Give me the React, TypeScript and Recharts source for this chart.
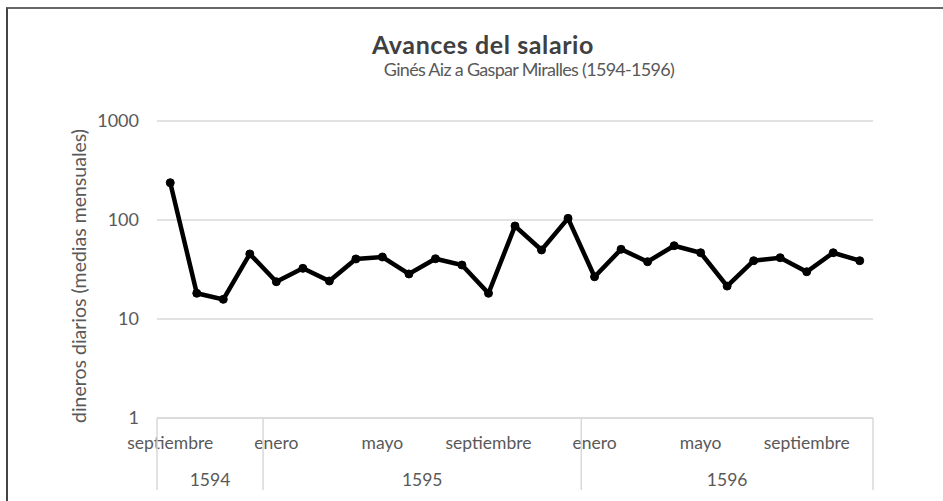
import { CartesianGrid, Line, LineChart, XAxis, YAxis } from 'recharts';

const months = [
  'septiembre', 'octubre', 'noviembre', 'diciembre',
  'enero', 'febrero', 'marzo', 'abril', 'mayo', 'junio', 'julio', 'agosto', 'septiembre', 'octubre', 'noviembre', 'diciembre',
  'enero', 'febrero', 'marzo', 'abril', 'mayo', 'junio', 'julio', 'agosto', 'septiembre', 'octubre', 'noviembre',
];
const yearSpans: [string, number][] = [['1594', 4], ['1595', 12], ['1596', 11]];
const shownMonths = ['septiembre', 'enero', 'mayo'];
const values = [
  238, 18.2, 15.8, 45.4,
  23.8, 32.5, 24.2, 40.4, 42.3, 28.5, 40.6, 35.1, 18.2, 87, 49.8, 104,
  26.7, 50.6, 37.9, 55, 46.7, 21.5, 38.8, 41.6, 30, 46.7, 38.8,
];
const yTicks = [1, 10, 100, 1000];

const years = yearSpans.flatMap(([year, count]) => Array.from({ length: count }, () => year));
const rows = months.map((month, i) => ({ key: `${month}-${years[i]}-${i}`, value: values[i] }));

const FONT = 'Lato, "Open Sans", sans-serif';
const TEXT = '#595959';
const AXIS = '#d9d9d9';
const PLOT_WIDTH = 716;

const MonthYearTick = (props: any) => {
  const { x, y, payload } = props;
  const i: number = props.index ?? payload.index;
  const band = payload.offset ? payload.offset * 2 : PLOT_WIDTH / months.length;
  const year = years[i];
  const start = years.indexOf(year);
  const end = years.lastIndexOf(year);
  const mid = (start + end) / 2;
  const isStart = i === start;
  const isLast = i === months.length - 1;

  return (
    <g>
      {shownMonths.includes(months[i]) && (
        <text x={x} y={y + 31} textAnchor="middle" fill={TEXT} fontSize={17.5} fontFamily={FONT}>
          {months[i]}
        </text>
      )}
      {isStart && <line x1={x - band / 2} x2={x - band / 2} y1={y} y2={y + 72} stroke={AXIS} strokeWidth={1.5} />}
      {isLast && <line x1={x + band / 2} x2={x + band / 2} y1={y} y2={y + 72} stroke={AXIS} strokeWidth={1.5} />}
      {i === Math.floor(mid) && (
        <text x={x + (mid - i) * band} y={y + 68} textAnchor="middle" fill={TEXT} fontSize={17.5} fontFamily={FONT}>
          {year}
        </text>
      )}
    </g>
  );
};

export default function App() {
  return (
    <div style={{ position: 'absolute', left: 0, top: 0, width: 943, height: 501, overflow: 'hidden', background: '#fff' }}>
      <div
        style={{
          position: 'absolute',
          left: 6,
          top: 7,
          width: 1200,
          height: 800,
          borderTop: '2px solid #666',
          borderLeft: '2px solid #444',
        }}
      />
      <LineChart width={943} height={501} data={rows} margin={{ top: 121, right: 70, bottom: 0, left: 0 }}>
        <CartesianGrid vertical={false} stroke={AXIS} strokeWidth={1.5} />
        <XAxis
          dataKey="key"
          scale="band"
          interval={0}
          tickLine={false}
          tickSize={0}
          tickMargin={0}
          height={83}
          axisLine={{ stroke: AXIS, strokeWidth: 1.5 }}
          tick={<MonthYearTick />}
        />
        <YAxis
          type="number"
          scale="log"
          domain={[1, 1000]}
          ticks={yTicks}
          allowDataOverflow
          width={157}
          axisLine={false}
          tickLine={false}
          tickMargin={12}
          tick={{ fill: TEXT, fontSize: 18, fontFamily: FONT }}
        />
        <Line
          type="linear"
          dataKey="value"
          stroke="#000"
          strokeWidth={4.5}
          dot={{ r: 4, fill: '#000', stroke: '#000', strokeWidth: 1 }}
          isAnimationActive={false}
        />
      </LineChart>
      <svg width={943} height={501} style={{ position: 'absolute', left: 0, top: 0, pointerEvents: 'none' }}>
        <text x={483} y={54} textAnchor="middle" fill="#404040" fontSize={25} fontWeight={700} letterSpacing={0.6} fontFamily={FONT}>
          Avances del salario
        </text>
        <text x={529} y={76} textAnchor="middle" fill={TEXT} fontSize={18} letterSpacing={-0.7} fontFamily={FONT}>
          Ginés Aiz a Gaspar Miralles (1594-1596)
        </text>
        <text
          x={0}
          y={0}
          transform="translate(86 276) rotate(-90)"
          textAnchor="middle"
          fill={TEXT}
          fontSize={19.5}
          fontFamily={FONT}
        >
          dineros diarios (medias mensuales)
        </text>
      </svg>
    </div>
  );
}
